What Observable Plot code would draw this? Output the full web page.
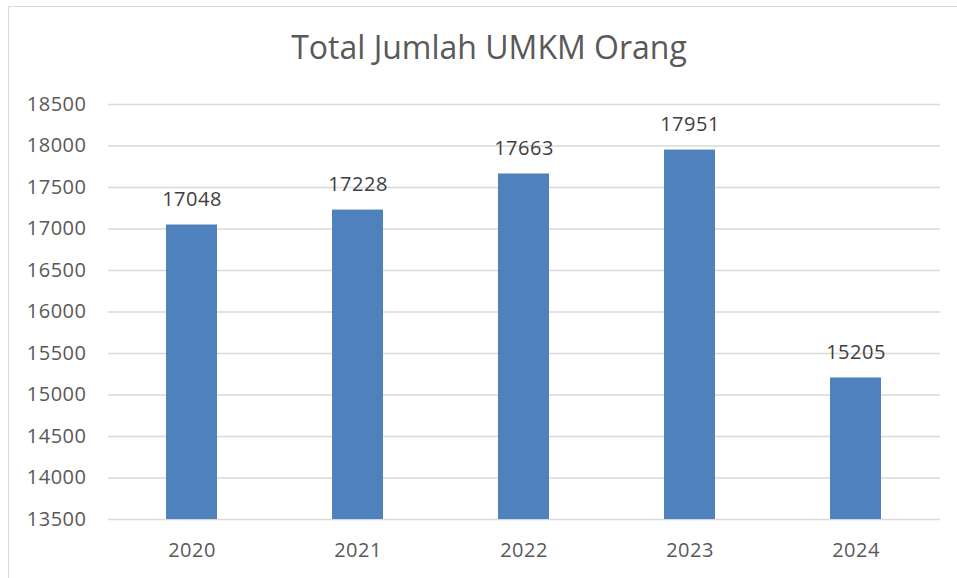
<!DOCTYPE html>
<html>
<head>
<meta charset="utf-8">
<script src="https://cdn.jsdelivr.net/npm/d3@7"></script>
<script src="https://cdn.jsdelivr.net/npm/@observablehq/plot@0.6"></script>
<style>
  html, body { margin: 0; padding: 0; background: #fff; overflow: hidden; }
  #frame { position: absolute; left: 8px; top: 6px; width: 980px; height: 600px;
           border-left: 1.5px solid #d9d9d9; border-top: 1.5px solid #d9d9d9; }
  #title { position: absolute; left: 0; top: 25px; width: 978px; text-align: center;
           font-family: "Open Sans", sans-serif; font-size: 32px; color: #595959; }
  #chart { position: absolute; left: 0; top: 80px; }
</style>
</head>
<body>
<div id="frame"></div>
<div id="title">Total Jumlah UMKM Orang</div>
<div id="chart"></div>
<script>
const years = ["2020", "2021", "2022", "2023", "2024"];
const totals = [17048, 17228, 17663, 17951, 15205];
const yTicks = [13500, 14000, 14500, 15000, 15500, 16000, 16500, 17000, 17500, 18000, 18500];

const data = years.map((y, i) => ({year: y, value: totals[i]}));

const plot = Plot.plot({
  width: 957,
  height: 498,
  marginLeft: 108,
  marginRight: 17,
  marginTop: 24,
  marginBottom: 59,
  style: {fontFamily: "Open Sans, sans-serif", fontSize: "20px", color: "#595959", letterSpacing: "0.5px", background: "transparent"},
  x: {domain: years, paddingInner: 0.69, paddingOuter: 0.345, label: null, tickSize: 0, tickPadding: 23},
  y: {domain: [13500, 18500], ticks: yTicks, label: null, tickSize: 0, tickPadding: 22, tickFormat: d => String(d)},
  marks: [
    Plot.gridY(yTicks, {stroke: "#d9d9d9", strokeOpacity: 1, strokeWidth: 1.5}),
    Plot.barY(data, {x: "year", y1: 13500, y2: "value", fill: "#4f81bd"}),
    Plot.text(data, {x: "year", y: "value", text: d => String(d.value), dy: -25, fill: "#404040", fontSize: 20})
  ]
});
document.getElementById("chart").appendChild(plot);
</script>
</body>
</html>
